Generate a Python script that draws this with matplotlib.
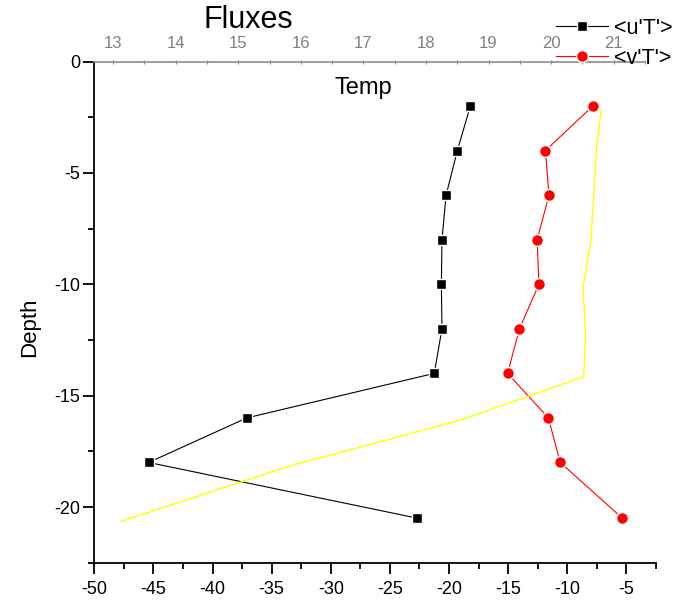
import matplotlib
matplotlib.use('Agg')
import matplotlib.pyplot as plt
from matplotlib.ticker import MultipleLocator

plt.rcParams['font.family'] = ['Liberation Sans', 'DejaVu Sans']

# flux profiles
depth = [-2, -4, -6, -8, -10, -12, -14, -16, -18, -20.5]
uT = [-18.2, -19.3, -20.25, -20.6, -20.65, -20.6, -21.25, -37.1, -45.4, -22.7]
vT = [-7.85, -11.85, -11.55, -12.55, -12.4, -14.05, -15.05, -11.6, -10.6, -5.35]

# temperature profile (top axis)
temp_depth = [-2.15, -4.1, -6.1, -8.15, -10.1, -12.2, -14.15, -16.1, -18.15, -20.65]
temp = [20.80, 20.72, 20.68, 20.63, 20.51, 20.55, 20.52, 18.55, 15.83, 13.12]

W, H = 682, 601
fig = plt.figure(figsize=(W / 100, H / 100), dpi=100)

# main axes (pixel layout of the reference)
left, right, top, bottom = 94.3, 656, 61.5, 562.7
ax = fig.add_axes([left / W, 1 - bottom / H, (right - left) / W, (bottom - top) / H])

l1, = ax.plot(uT, depth, color='black', lw=0.8, marker='s', ms=7.5,
              mfc='black', mec='white', mew=1.0, label="<u'T'>")
l2, = ax.plot(vT, depth, color='#ff0000', lw=0.8, marker='o', ms=8.5,
              mfc='#ff0000', mec='white', mew=1.0, label="<v'T'>")

ax.set_xlim(-50, -2.5)
ax.set_ylim(-22.5, 0)
ax.xaxis.set_minor_locator(MultipleLocator(2.5))
ax.yaxis.set_minor_locator(MultipleLocator(2.5))
ax.set_xticks(range(-50, 0, 5))
ax.set_yticks([0, -5, -10, -15, -20])
ax.set_yticklabels(['0', '-5', '-10', '-15', '-20'])
ax.set_xticklabels([str(v) for v in range(-50, 0, 5)])

for s in ['top', 'right']:
    ax.spines[s].set_visible(False)
for s in ['left', 'bottom']:
    ax.spines[s].set_linewidth(1.3)

ax.tick_params(axis='both', which='major', direction='out', length=8, width=1.3,
               labelsize=13)
ax.tick_params(axis='both', which='minor', direction='out', length=4, width=1.3)
ax.tick_params(axis='x', which='major', pad=5)
ax.tick_params(axis='y', which='major', pad=2)

ax.set_ylabel('Depth', fontsize=16)
ax.yaxis.set_label_coords(-0.097, 0.47)

# temperature axis on top, narrower than the main one
t_right = 645
ax2 = fig.add_axes([left / W, 1 - bottom / H, (t_right - left) / W, (bottom - top) / H],
                   sharey=ax)
ax2.patch.set_visible(False)
ax2.plot(temp, temp_depth, color='#ffff00', lw=1.0)
ax2.set_xlim(12.7, 21.5)
for s in ['bottom', 'left', 'right']:
    ax2.spines[s].set_visible(False)
ax2.spines['top'].set_color('#8c8c8c')
ax2.spines['top'].set_linewidth(1.2)
ax2.xaxis.set_ticks_position('top')
ax2.xaxis.set_major_locator(MultipleLocator(1))
ax2.xaxis.set_minor_locator(MultipleLocator(0.5))
ax2.tick_params(axis='x', which='both', direction='inout', length=3, width=0.8,
                colors='#8c8c8c', labelcolor='#808080', labelsize=12, pad=6)
ax2.tick_params(axis='y', which='both', left=False, right=False,
                labelleft=False, labelright=False)
ax2.xaxis.set_label_position('top')
ax2.set_xlabel('Temp', fontsize=17)
ax2.xaxis.label.set_va('center')
ax2.xaxis.set_label_coords((363 - left) / (t_right - left), (bottom - 88) / (bottom - top))

fig.text(248 / W, 1 - 20 / H, 'Fluxes', fontsize=22, ha='center', va='center')

fig.legend(handles=[l1, l2], loc='upper left', bbox_to_anchor=(556 / W, 1 - 18 / H),
           frameon=False, fontsize=15.5, handlelength=2.4, handletextpad=0.3,
           labelspacing=0.4, borderpad=0, borderaxespad=0)

fig.savefig('out.png', dpi=100)
